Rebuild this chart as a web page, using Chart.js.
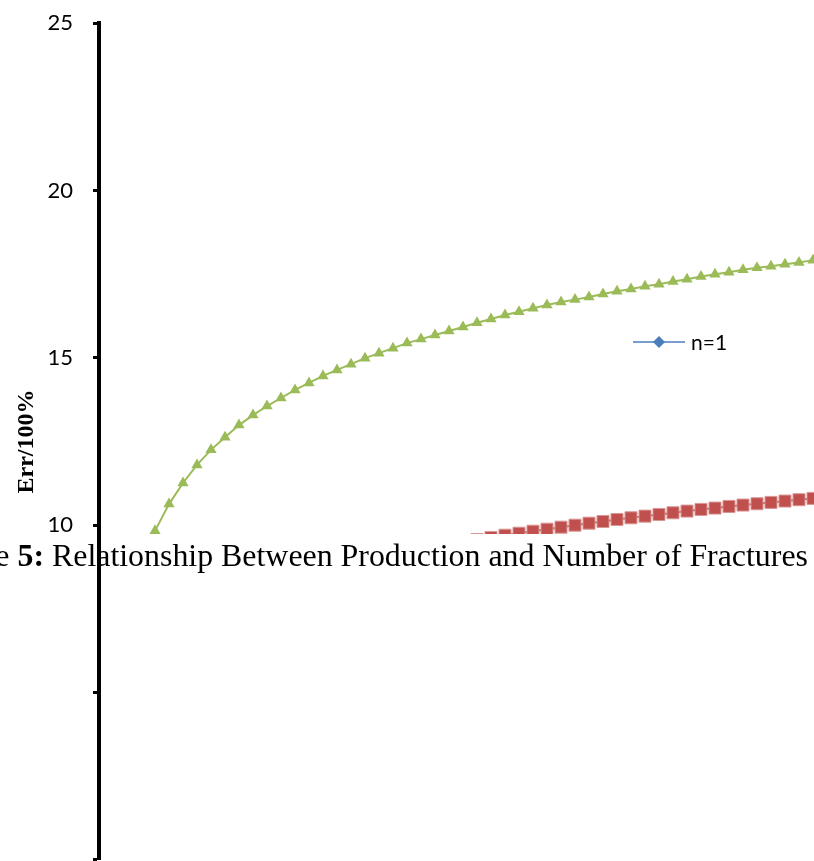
<!DOCTYPE html>
<html>
<head>
<meta charset="utf-8">
<script src="https://cdn.jsdelivr.net/npm/chart.js@4/dist/chart.umd.min.js"></script>
<style>
  html, body { margin: 0; padding: 0; background: #fff; overflow: hidden; width: 814px; height: 861px; }
  #wrap { position: relative; width: 814px; height: 861px; overflow: hidden; }
  canvas { position: absolute; left: 0; top: -10px; }
  #caption { position: absolute; top: 540px; left: 0; white-space: nowrap; font-family: "Liberation Serif", "Times New Roman", serif; font-size: 26px; line-height: 1; color: #000; }
</style>
</head>
<body>
<div id="wrap">
  <canvas id="c" width="840" height="903"></canvas>
  <div id="caption"><span id="capPre">Figure <b>5:</b> </span><span id="capMain">Relationship Between Production and Number of Fractures</span></div>
</div>
<script>
// ---- data (unseen points are null) ----
const categories = Array.from({length: 53}, (_, i) => String(i + 1));
const yTicks = [0, 5, 10, 15, 20, 25];
const seriesNames = ['n=1', 'n=2', 'n=3'];
const n1Values = Array(53).fill(null);
const n2Values = [null, null, null, null, null, null, null, null, null, null, null, null, null, null, null, null, null, null, null, null, null, null, null, null, null, null, null,
  9.57, 9.63, 9.70, 9.76, 9.82, 9.88, 9.94, 10.00, 10.06, 10.11, 10.17, 10.22, 10.27, 10.32,
  10.37, 10.42, 10.47, 10.51, 10.56, 10.60, 10.64, 10.68, 10.72, 10.76, 10.80, null];
const n3Values = [null, null, null, null,
  9.83, 10.63, 11.26, 11.80, 12.25, 12.63, 12.99, 13.29, 13.56, 13.80, 14.04, 14.25, 14.46, 14.64,
  14.81, 14.99, 15.14, 15.29, 15.44, 15.56, 15.68, 15.80, 15.92, 16.05, 16.16, 16.28, 16.38, 16.48,
  16.58, 16.67, 16.74, 16.82, 16.91, 16.99, 17.06, 17.14, 17.20, 17.28, 17.35, 17.43, 17.50, 17.56,
  17.63, 17.69, 17.74, 17.80, 17.85, 17.92, null];

const BLUE = '#4A7EBB', RED = '#C0504D', GREEN = '#9BBB59';
const CANVAS_SHIFT = 10; // canvas is placed 10px above the page top

// clip the plotted series to the upper part (lower part of the page is blank)
const clipPlugin = {
  id: 'clipLower',
  beforeDatasetsDraw(chart) {
    const ctx = chart.ctx;
    ctx.save();
    ctx.beginPath();
    ctx.rect(0, 0, chart.width, 534 + CANVAS_SHIFT);
    ctx.clip();
  },
  afterDatasetsDraw(chart) { chart.ctx.restore(); }
};

// legend entry for first series
const legendPlugin = {
  id: 'sideLegend',
  afterDraw(chart) {
    const ctx = chart.ctx;
    const ds = chart.data.datasets[0];
    const y = 342 + CANVAS_SHIFT, x0 = 633, x1 = 685, xm = 659;
    ctx.save();
    ctx.strokeStyle = ds.borderColor;
    ctx.lineWidth = 1.5;
    ctx.beginPath(); ctx.moveTo(x0, y); ctx.lineTo(x1, y); ctx.stroke();
    ctx.fillStyle = ds.pointBackgroundColor;
    ctx.beginPath();
    ctx.moveTo(xm, y - 6); ctx.lineTo(xm + 6, y); ctx.lineTo(xm, y + 6); ctx.lineTo(xm - 6, y);
    ctx.closePath(); ctx.fill();
    ctx.fillStyle = '#000';
    ctx.font = '21px Lato';
    ctx.textBaseline = 'middle';
    ctx.textAlign = 'left';
    ctx.fillText(ds.label, 691, y + 1);
    ctx.restore();
  }
};

new Chart(document.getElementById('c'), {
  type: 'line',
  data: {
    labels: categories,
    datasets: [
      { label: seriesNames[0], data: n1Values, borderColor: BLUE, backgroundColor: BLUE, pointBackgroundColor: BLUE,
        pointBorderColor: BLUE, pointStyle: 'rectRot', pointRadius: 6, borderWidth: 1.5 },
      { label: seriesNames[1], data: n2Values, borderColor: RED, backgroundColor: RED, pointBackgroundColor: RED,
        pointBorderColor: '#D99795', pointBorderWidth: 1, pointStyle: 'rect', pointRadius: 8.5, borderWidth: 2 },
      { label: seriesNames[2], data: n3Values, borderColor: GREEN, backgroundColor: GREEN, pointBackgroundColor: GREEN,
        pointBorderColor: GREEN, pointBorderWidth: 0, pointStyle: 'triangle', pointRadius: 6.5, borderWidth: 2 }
    ]
  },
  options: {
    responsive: false,
    animation: false,
    devicePixelRatio: 1,
    spanGaps: false,
    layout: { padding: { left: 0, right: 13, top: 12, bottom: 2 } },
    plugins: { legend: { display: false }, tooltip: { enabled: false } },
    scales: {
      x: { type: 'category', display: false, offset: false },
      y: {
        min: 0, max: 25,
        afterFit(s) { s.width = 99; },
        afterBuildTicks(s) { s.ticks = yTicks.map(v => ({ value: v })); },
        ticks: {
          padding: 20, color: '#000',
          font: { family: 'Lato', size: 22 },
          callback: v => (v >= 10 ? String(v) : '')
        },
        grid: { display: true, drawOnChartArea: false, drawTicks: true, tickLength: 6, tickWidth: 3, tickColor: '#000' },
        border: { display: true, color: '#000', width: 4 },
        title: {
          display: true, text: 'Err/100%', color: '#000',
          font: { family: 'Liberation Serif', size: 24, weight: 'bold' },
          padding: { top: 12, bottom: 0 }
        }
      }
    }
  },
  plugins: [clipPlugin, legendPlugin]
});

// place caption so that "Relationship" starts at x = 52 and ends near 808
(function () {
  const cap = document.getElementById('caption');
  const main = document.getElementById('capMain');
  const w = main.getBoundingClientRect().width;
  const fs = 26 * 756 / w;
  cap.style.fontSize = fs.toFixed(2) + 'px';
  const pre = document.getElementById('capPre').getBoundingClientRect().width;
  cap.style.left = (52 - pre) + 'px';
})();
</script>
</body>
</html>
